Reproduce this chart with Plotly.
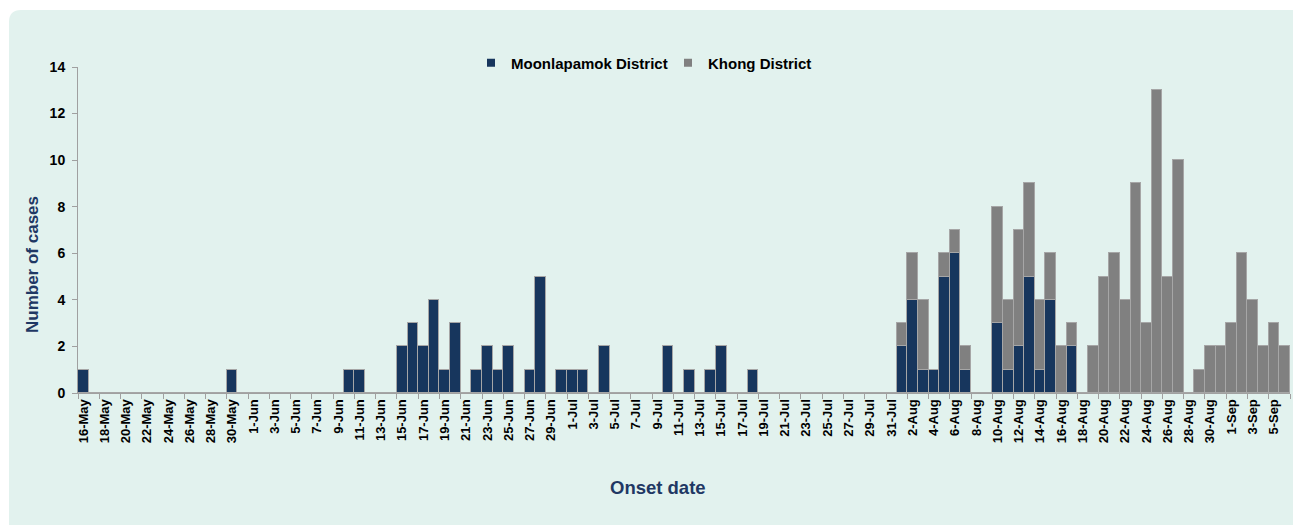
import plotly.graph_objects as go
import pandas as pd

# daily onset dates, 16 May to 6 Sep
dates = [f"{d.day}-{d.strftime('%b')}" for d in pd.date_range("2012-05-16", "2012-09-06")]

moon_may = [1, 0, 0, 0, 0, 0, 0, 0, 0, 0, 0, 0, 0, 0, 1, 0]
moon_jun = [0, 0, 0, 0, 0, 0, 0, 0, 0, 1, 1, 0, 0, 0, 2, 3, 2, 4, 1, 3,
            0, 1, 2, 1, 2, 0, 1, 5, 0, 1]
moon_jul = [1, 1, 0, 2, 0, 0, 0, 0, 0, 2, 0, 1, 0, 1, 2, 0, 0, 1, 0, 0,
            0, 0, 0, 0, 0, 0, 0, 0, 0, 0, 0]
moon_aug = [2, 4, 1, 1, 5, 6, 1, 0, 0, 3, 1, 2, 5, 1, 4, 0, 2, 0, 0, 0,
            0, 0, 0, 0, 0, 0, 0, 0, 0, 0, 0]
moon_sep = [0, 0, 0, 0, 0, 0]

khong_may = [0] * 16
khong_jun = [0] * 30
khong_jul = [0] * 31
khong_aug = [1, 2, 3, 0, 1, 1, 1, 0, 0, 5, 3, 5, 4, 3, 2, 2, 1, 0, 2, 5,
             6, 4, 9, 3, 13, 5, 10, 0, 1, 2, 2]
khong_sep = [3, 6, 4, 2, 3, 2]

moonlapamok = moon_may + moon_jun + moon_jul + moon_aug + moon_sep
khong = khong_may + khong_jun + khong_jul + khong_aug + khong_sep

navy = "#17365d"
grey = "#808080"
edge = "#a6a6a6"
title_col = "#1f3864"
panel = "#e2f2ee"
fnt = "Liberation Sans, Arial, sans-serif"

# plot area in pixels (used to place the rounded panel and annotations)
W, H = 1293, 525
L, R, T, B = 78, 3, 67, 132
pw, ph = W - L - R, H - T - B

def px(x):
    return (x - L) / pw

def py(y):
    return (H - B - y) / ph

fig = go.Figure()

fig.add_trace(go.Bar(x=dates, y=moonlapamok, name="Moonlapamok District",
                     marker=dict(color=navy, line=dict(color=edge, width=1)),
                     showlegend=False))
fig.add_trace(go.Bar(x=dates, y=khong, name="Khong District",
                     marker=dict(color=grey, line=dict(color=edge, width=1)),
                     showlegend=False))

# legend entries with small square markers
fig.add_trace(go.Scatter(x=[None], y=[None], mode="markers", name="Moonlapamok District",
                         marker=dict(symbol="square", size=8, color=navy)))
fig.add_trace(go.Scatter(x=[None], y=[None], mode="markers", name="Khong District",
                         marker=dict(symbol="square", size=8, color=grey)))

r = 12
path = (f"M {px(9)},{py(H)} L {px(9)},{py(10 + r)} "
        f"Q {px(9)},{py(10)} {px(9 + r)},{py(10)} "
        f"L {px(W)},{py(10)} L {px(W)},{py(H)} Z")
fig.add_shape(type="path", path=path, xref="paper", yref="paper",
              fillcolor=panel, line=dict(width=0), layer="below")

fig.add_annotation(text="Number of cases", textangle=-90, x=px(32), y=py(265),
                   xref="paper", yref="paper", showarrow=False,
                   xanchor="center", yanchor="middle",
                   font=dict(family=fnt, size=17, color=title_col, weight="bold"))
fig.add_annotation(text="Onset date", x=px(658), y=py(488),
                   xref="paper", yref="paper", showarrow=False,
                   xanchor="center", yanchor="middle",
                   font=dict(family=fnt, size=18.5, color=title_col, weight="bold"))

fig.update_layout(
    width=W, height=H,
    margin=dict(l=L, r=R, t=T, b=B),
    barmode="stack", bargap=0,
    paper_bgcolor="white", plot_bgcolor="rgba(0,0,0,0)",
    font=dict(family=fnt, color="black"),
    legend=dict(orientation="h", traceorder="normal",
                x=px(471), xanchor="left", y=py(63), yanchor="middle",
                bgcolor="rgba(0,0,0,0)", font=dict(size=15, weight="bold"),
                entrywidth=152, entrywidthmode="pixels"),
    xaxis=dict(type="category", tickmode="linear", tick0=0, dtick=2,
               tickson="boundaries", tickangle=-90, ticks="outside", ticklen=5,
               tickcolor="#a0a0a0", showline=True, linecolor="#a0a0a0",
               showgrid=False, tickfont=dict(size=13, weight="bold")),
    yaxis=dict(range=[0, 14], dtick=2, ticks="outside", ticklen=5,
               tickcolor="#a0a0a0", showline=True, linecolor="#a0a0a0",
               showgrid=False, zeroline=False, ticklabelstandoff=4,
               tickfont=dict(size=14, weight="bold")),
)

fig.write_html("out.html", config={"displayModeBar": False},
               post_script="document.body.style.margin='0px';")
